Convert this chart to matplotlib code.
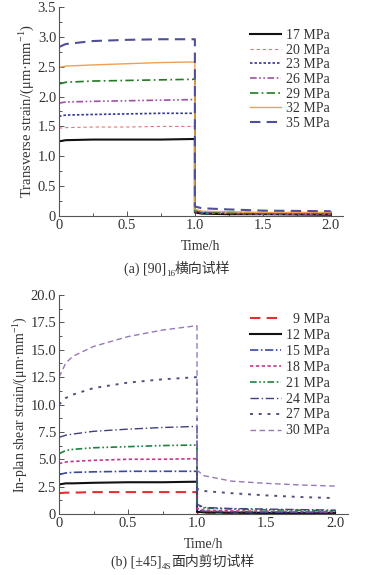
import matplotlib
matplotlib.use("Agg")
import matplotlib.pyplot as plt
from matplotlib.ticker import MultipleLocator, FuncFormatter

plt.rcParams['font.family'] = ['Liberation Serif', 'Noto Sans CJK SC', 'DejaVu Sans']
plt.rcParams['mathtext.fontset'] = 'custom'
plt.rcParams['mathtext.rm'] = 'Liberation Serif'

# ---------------- data: (a) transverse ----------------
ta_creep = [0, 0.05, 0.25, 0.5, 0.75, 1.0]
ta_rec = [1.0, 1.05, 1.25, 1.5, 2.0]
labels_a = ['17 MPa', '20 MPa', '23 MPa', '26 MPa', '29 MPa', '32 MPa', '35 MPa']
creep_a = [
    [1.25, 1.27, 1.28, 1.28, 1.28, 1.29],
    [1.47, 1.48, 1.49, 1.49, 1.50, 1.50],
    [1.67, 1.69, 1.70, 1.71, 1.72, 1.72],
    [1.89, 1.91, 1.92, 1.93, 1.94, 1.95],
    [2.21, 2.24, 2.26, 2.27, 2.28, 2.29],
    [2.49, 2.51, 2.53, 2.55, 2.57, 2.58],
    [2.83, 2.88, 2.93, 2.95, 2.96, 2.96],
]
rec_a = [
    [0.06, 0.04, 0.03, 0.03, 0.02],
    [0.07, 0.05, 0.04, 0.03, 0.03],
    [0.08, 0.06, 0.05, 0.04, 0.04],
    [0.09, 0.07, 0.06, 0.05, 0.05],
    [0.10, 0.07, 0.06, 0.05, 0.05],
    [0.11, 0.08, 0.07, 0.06, 0.06],
    [0.16, 0.13, 0.11, 0.09, 0.08],
]

# ---------------- data: (b) in-plane shear ----------------
tb_creep = [0, 0.05, 0.1, 0.25, 0.5, 0.75, 1.0]
tb_rec = [1.0, 1.05, 1.25, 1.5, 1.75, 2.0]
labels_b = ['  9 MPa', '12 MPa', '15 MPa', '18 MPa', '21 MPa', '24 MPa', '27 MPa', '30 MPa']
creep_b = [
    [1.9, 1.95, 1.95, 2.0, 2.0, 2.0, 2.0],
    [2.7, 2.8, 2.8, 2.85, 2.9, 2.9, 2.95],
    [3.6, 3.75, 3.8, 3.85, 3.9, 3.9, 3.9],
    [4.6, 4.75, 4.8, 4.9, 5.0, 5.0, 5.05],
    [5.5, 5.8, 5.9, 6.05, 6.15, 6.25, 6.3],
    [7.0, 7.2, 7.3, 7.55, 7.75, 7.9, 8.0],
    [10.0, 10.6, 10.9, 11.5, 12.0, 12.3, 12.5],
    [12.5, 13.8, 14.4, 15.3, 16.2, 16.8, 17.2],
]
rec_b = [
    [0.15, 0.12, 0.10, 0.10, 0.10, 0.10],
    [0.20, 0.15, 0.12, 0.10, 0.10, 0.10],
    [0.35, 0.25, 0.20, 0.18, 0.16, 0.15],
    [0.50, 0.35, 0.28, 0.25, 0.22, 0.20],
    [0.80, 0.55, 0.45, 0.38, 0.35, 0.30],
    [0.90, 0.60, 0.50, 0.45, 0.40, 0.35],
    [2.30, 2.10, 1.90, 1.70, 1.55, 1.45],
    [4.00, 3.50, 3.00, 2.80, 2.65, 2.55],
]

styles_a = [
    dict(color='#111111', lw=1.5, ls='-'),
    dict(color='#e07878', lw=0.8, dashes=(3, 2.5)),
    dict(color='#33339a', lw=1.2, dashes=(1.5, 1.2)),
    dict(color='#a050a8', lw=1.2, dashes=(4, 1.5, 1, 1.5, 1, 1.5)),
    dict(color='#227a22', lw=1.2, dashes=(5, 2, 1, 2)),
    dict(color='#f0a050', lw=1.0, ls='-'),
    dict(color='#505098', lw=1.5, dashes=(5, 3)),
]
styles_b = [
    dict(color='#e03030', lw=1.5, dashes=(5, 3)),
    dict(color='#111111', lw=1.5, ls='-'),
    dict(color='#3a4aa0', lw=1.2, dashes=(5, 1.5, 1, 1.5)),
    dict(color='#c03890', lw=1.2, dashes=(2, 1.5)),
    dict(color='#208040', lw=1.2, dashes=(4, 1.5, 1, 1.5, 1, 1.5)),
    dict(color='#404080', lw=1.0, dashes=(6, 2, 1, 2)),
    dict(color='#505080', lw=1.4, dashes=(1.5, 3)),
    dict(color='#9878b8', lw=1.0, dashes=(4, 2.5)),
]

fig = plt.figure(figsize=(3.74, 5.75), dpi=100)
TXT = '#333333'

def style_axes(ax, xmax, ymax, ymajor, yminor):
    ax.set_xlim(0, xmax)
    ax.set_ylim(0, ymax)
    for s in ['top', 'right']:
        ax.spines[s].set_visible(False)
    for s in ['left', 'bottom']:
        ax.spines[s].set_color('#555555')
        ax.spines[s].set_linewidth(0.8)
    ax.xaxis.set_major_locator(MultipleLocator(0.5))
    ax.xaxis.set_minor_locator(MultipleLocator(0.25))
    ax.yaxis.set_major_locator(MultipleLocator(ymajor))
    ax.yaxis.set_minor_locator(MultipleLocator(yminor))
    fmt = FuncFormatter(lambda v, p: '0' if abs(v) < 1e-9 else f'{v:.1f}')
    ax.xaxis.set_major_formatter(fmt)
    ax.yaxis.set_major_formatter(fmt)
    ax.tick_params(which='both', direction='in', colors='#555555', labelcolor=TXT,
                   labelsize=10.5, width=0.7, pad=2)
    ax.tick_params(which='major', length=3.5)
    ax.tick_params(which='minor', length=2)

def draw(ax, tc, tr, creep, rec, labels, styles):
    for c, r, lab, st in zip(creep, rec, labels, styles):
        xs = list(tc) + list(tr)
        ys = list(c) + list(r)
        ax.plot(xs, ys, label=lab, **st)

# (a)
ax1 = fig.add_axes([59/374, 1-216/575, 284/374, 209/575])
draw(ax1, ta_creep, ta_rec, creep_a, rec_a, labels_a, styles_a)
style_axes(ax1, 2.09, 3.5, 0.5, 0.25)
ax1.set_ylabel('Transverse strain/(μm·mm$^{-1}$)', fontsize=10.5, color=TXT, labelpad=1)
ax1.set_xlabel('Time/h', fontsize=10, color=TXT, labelpad=6)
leg1 = ax1.legend(loc='upper left', bbox_to_anchor=(250/374, 1-29/575),
                  bbox_transform=fig.transFigure, frameon=False, fontsize=10,
                  handlelength=2.2, handletextpad=0.4, labelspacing=0.12,
                  borderpad=0, borderaxespad=0)
for t in leg1.get_texts():
    t.set_color(TXT)

# (b)
ax2 = fig.add_axes([59/374, 1-514/575, 289/374, 219/575])
draw(ax2, tb_creep, tb_rec, creep_b, rec_b, labels_b, styles_b)
style_axes(ax2, 2.094, 20.0, 2.5, 1.25)
ax2.set_ylabel('In-plan shear strain/(μm·mm$^{-1}$)', fontsize=10, color=TXT, labelpad=1)
ax2.set_xlabel('Time/h', fontsize=10, color=TXT, labelpad=6)
leg2 = ax2.legend(loc='upper left', bbox_to_anchor=(250/374, 1-313/575),
                  bbox_transform=fig.transFigure, frameon=False, fontsize=10,
                  handlelength=2.2, handletextpad=0.4, labelspacing=0.21,
                  borderpad=0, borderaxespad=0)
for t in leg2.get_texts():
    t.set_color(TXT)

# captions with subscript, composed piecewise
fig.canvas.draw()
renderer = fig.canvas.get_renderer()

def caption(x0_px, y_px, parts):
    x = x0_px
    for txt, sub, fam in parts:
        fs = 6.5 if sub else 10
        dy = -3 if sub else 0
        t = fig.text(x / 374, 1 - (y_px - dy) / 575, txt, fontsize=fs, color=TXT,
                     family=fam, va='baseline', ha='left')
        bb = t.get_window_extent(renderer)
        x += bb.width

caption(124, 273, [('(a) [90]', False, ['Liberation Serif']),
                   ('16', True, ['Liberation Serif']),
                   ('横向试样', False, ['Noto Sans CJK SC'])])
caption(111, 566, [('(b) [±45]', False, ['Liberation Serif']),
                   ('4S', True, ['Liberation Serif']),
                   ('面内剪切试样', False, ['Noto Sans CJK SC'])])

fig.savefig('out.png', dpi=100)
